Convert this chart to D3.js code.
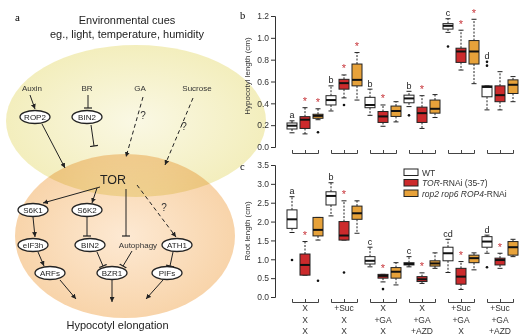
<!DOCTYPE html>
<html>
<head>
<meta charset="utf-8">
<script src="https://cdn.jsdelivr.net/npm/d3@7"></script>
<style>
  body { margin: 0; background: #fff; }
  svg { display: block; font-family: "Liberation Sans", Arial, sans-serif; }
</style>
</head>
<body>
<svg id="fig" width="532" height="336"></svg>
<script>
// treatment rows shown under panel c, one entry per group
var sucroseRow = ["X", "+Suc", "X", "X", "+Suc", "+Suc"];
var gaRow      = ["X", "X", "+GA", "+GA", "+GA", "+GA"];
var azdRow     = ["X", "X", "X", "+AZD", "X", "+AZD"];

var genotypes = ["WT", "TOR-RNAi (35-7)", "rop2 rop6 ROP4-RNAi"];
var genoColors = ["#ffffff", "#cc2a2c", "#e7a23a"];

// hypocotyl length (cm): [low whisker, Q1, median, Q3, high whisker], WT / TOR / rop per group
var hypoTicks = [0, 0.2, 0.4, 0.6, 0.8, 1.0, 1.2];
var hypoStats = [
  [0.13, 0.165, 0.195, 0.22, 0.24], [0.12, 0.17, 0.25, 0.278, 0.36], [0.25, 0.263, 0.285, 0.30, 0.35],
  [0.33, 0.385, 0.43, 0.47, 0.56],  [0.45, 0.53, 0.585, 0.62, 0.66], [0.43, 0.56, 0.615, 0.76, 0.865],
  [0.29, 0.36, 0.385, 0.455, 0.53], [0.19, 0.225, 0.28, 0.325, 0.385], [0.23, 0.28, 0.33, 0.375, 0.415],
  [0.37, 0.405, 0.445, 0.475, 0.51], [0.17, 0.225, 0.31, 0.365, 0.47], [0.27, 0.31, 0.35, 0.43, 0.48],
  [1.05, 1.08, 1.11, 1.13, 1.175],  [0.705, 0.775, 0.875, 0.905, 1.07], [0.58, 0.76, 0.875, 0.975, 1.17],
  [0.34, 0.46, 0.55, 0.56, 0.56],   [0.34, 0.415, 0.475, 0.56, 0.69], [0.415, 0.49, 0.57, 0.615, 0.645]
];
var hypoOutliers = [[], [], [0.135], [], [0.385], [], [], [], [], [0.29], [], [], [0.92], [], [], [0.745, 0.78], [], []];
var hypoMarks = ["a", "*", "*", "b", "*", "*", "b", "*", "", "b", "*", "", "c", "*", "*", "d", "", ""];

// root length (cm)
var rootTicks = [0, 0.5, 1.0, 1.5, 2.0, 2.5, 3.0, 3.5];
var rootStats = [
  [1.71, 1.82, 2.06, 2.31, 2.66], [0.58, 0.58, 0.85, 1.14, 1.47], [1.51, 1.62, 1.78, 2.11, 2.11],
  [2.15, 2.44, 2.68, 2.79, 3.03], [1.51, 1.51, 1.63, 2.0, 2.55],  [1.69, 2.06, 2.22, 2.41, 2.55],
  [0.8, 0.875, 0.96, 1.07, 1.32], [0.4, 0.5, 0.56, 0.6, 0.6],     [0.32, 0.5, 0.67, 0.78, 0.91],
  [0.8, 0.85, 0.875, 0.91, 1.07], [0.36, 0.41, 0.47, 0.54, 0.64], [0.76, 0.82, 0.89, 0.96, 1.17],
  [0.65, 0.96, 1.16, 1.32, 1.53], [0.2, 0.34, 0.54, 0.76, 0.94],  [0.72, 0.91, 1.03, 1.11, 1.17],
  [1.16, 1.32, 1.47, 1.6, 1.64],  [0.76, 0.85, 0.98, 1.03, 1.16], [1.07, 1.11, 1.32, 1.47, 1.53]
];
var rootOutliers = [[0.98], [], [0.43], [], [0.65], [], [], [0.21], [], [], [], [], [], [], [], [0.79], [], []];
var rootMarks = ["a", "*", "", "b", "*", "", "c", "*", "", "c", "*", "", "cd", "*", "", "d", "*", ""];

// pathway diagram (panel a), positions in 10px grid units
var cues = [
  {label: "Auxin", gx: 3.2, gy: 8.8}, {label: "BR", gx: 8.7, gy: 8.8},
  {label: "GA", gx: 14.0, gy: 8.8}, {label: "Sucrose", gx: 19.7, gy: 8.8}
];
var nodes = [
  {label: "ROP2", gx: 3.5, gy: 11.7}, {label: "BIN2", gx: 8.7, gy: 11.7},
  {label: "S6K1", gx: 3.3, gy: 21.0}, {label: "S6K2", gx: 8.7, gy: 21.0},
  {label: "eIF3h", gx: 3.3, gy: 24.5}, {label: "BIN2", gx: 9.0, gy: 24.5},
  {label: "ATH1", gx: 17.7, gy: 24.5},
  {label: "ARFs", gx: 5.0, gy: 27.3}, {label: "BZR1", gx: 11.2, gy: 27.3},
  {label: "PIFs", gx: 16.7, gy: 27.3}
];
var links = [
  {x1: 3.0, y1: 9.5, x2: 3.5, y2: 10.9, end: "arrow"},
  {x1: 8.8, y1: 9.5, x2: 8.8, y2: 10.8, end: "bar"},
  {x1: 14.3, y1: 9.7, x2: 12.6, y2: 15.7, end: "arrow", dash: true},
  {x1: 19.3, y1: 9.8, x2: 16.5, y2: 16.5, end: "arrow", dash: true},
  {x1: 4.2, y1: 12.4, x2: 6.5, y2: 16.8, end: "arrow"},
  {x1: 9.1, y1: 12.5, x2: 9.4, y2: 14.6, end: "bar"},
  {x1: 10.0, y1: 18.7, x2: 4.3, y2: 20.3, end: "arrow"},
  {x1: 9.7, y1: 18.8, x2: 9.2, y2: 20.3, end: "arrow"},
  {x1: 12.6, y1: 18.9, x2: 12.6, y2: 23.6, end: "bar"},
  {x1: 13.7, y1: 18.5, x2: 17.6, y2: 23.7, end: "arrow", dash: true},
  {x1: 3.3, y1: 21.7, x2: 3.5, y2: 23.7, end: "arrow"},
  {x1: 8.7, y1: 21.7, x2: 8.7, y2: 23.6, end: "bar"},
  {x1: 3.8, y1: 25.2, x2: 4.4, y2: 26.6, end: "arrow"},
  {x1: 9.7, y1: 25.2, x2: 10.3, y2: 26.6, end: "bar"},
  {x1: 13.2, y1: 25.1, x2: 12.3, y2: 26.6, end: "bar"},
  {x1: 17.3, y1: 25.2, x2: 17.0, y2: 26.6, end: "bar"},
  {x1: 6.0, y1: 28.0, x2: 7.6, y2: 29.9, end: "arrow"},
  {x1: 11.2, y1: 28.0, x2: 11.2, y2: 30.2, end: "arrow"},
  {x1: 16.3, y1: 28.0, x2: 14.6, y2: 29.9, end: "arrow"}
];
var questions = [{gx: 14.3, gy: 11.5}, {gx: 18.4, gy: 12.6}, {gx: 16.4, gy: 20.7}];

var svg = d3.select("#fig");
var defs = svg.append("defs");

function radial(id, inner, outer) {
  var grad = defs.append("radialGradient").attr("id", id);
  grad.append("stop").attr("offset", "0%").attr("stop-color", inner);
  grad.append("stop").attr("offset", "100%").attr("stop-color", outer);
}
radial("yel", "#faf8e4", "#f3eebd");
radial("org", "#fde9d3", "#f8d4aa");

defs.append("marker").attr("id", "arrow")
    .attr("viewBox", "0 0 6 6").attr("refX", 6).attr("refY", 3)
    .attr("markerWidth", 5).attr("markerHeight", 5)
    .attr("markerUnits", "userSpaceOnUse").attr("orient", "auto")
  .append("path").attr("d", "M0,0L6,3L0,6z").attr("fill", "#222");
defs.append("marker").attr("id", "bar")
    .attr("viewBox", "0 -4 2 8").attr("refX", 1).attr("refY", 0)
    .attr("markerWidth", 2).attr("markerHeight", 8)
    .attr("markerUnits", "userSpaceOnUse").attr("orient", "auto")
  .append("path").attr("d", "M1,-4V4").attr("stroke", "#222").attr("stroke-width", 1.2);

// ---------- panel a ----------
var gx = d3.scaleLinear().domain([0, 26]).range([0, 260]);
var gy = d3.scaleLinear().domain([0, 33.6]).range([0, 336]);
var pa = svg.append("g");

pa.append("ellipse").attr("cx", gx(13.6)).attr("cy", gy(12.1))
    .attr("rx", gx(13.0)).attr("ry", gy(7.6)).attr("fill", "url(#yel)");
pa.append("ellipse").attr("cx", gx(12.5)).attr("cy", gy(23.6))
    .attr("rx", gx(11.0)).attr("ry", gy(8.2)).attr("fill", "url(#org)")
    .style("mix-blend-mode", "multiply");

pa.append("text").attr("x", 15).attr("y", 21).text("a")
    .attr("font-family", "Liberation Serif, serif").attr("font-size", 11);

pa.selectAll(".head").data(["Environmental cues", "eg., light, temperature, humidity"])
  .join("text").attr("x", gx(12.7)).attr("y", function(d, i) { return gy(2.4 + i * 1.4); })
    .attr("text-anchor", "middle").attr("font-size", 11).attr("fill", "#222").text(function(d) { return d; });

pa.selectAll(".link").data(links).join("line")
    .attr("x1", function(d) { return gx(d.x1); }).attr("y1", function(d) { return gy(d.y1); })
    .attr("x2", function(d) { return gx(d.x2); }).attr("y2", function(d) { return gy(d.y2); })
    .attr("stroke", "#222").attr("stroke-width", 1)
    .attr("stroke-dasharray", function(d) { return d.dash ? "4,3" : null; })
    .attr("marker-end", function(d) { return "url(#" + d.end + ")"; });

pa.selectAll(".cue").data(cues).join("text")
    .attr("x", function(d) { return gx(d.gx); }).attr("y", function(d) { return gy(d.gy); })
    .attr("dy", "0.35em").attr("text-anchor", "middle").attr("font-size", 8).attr("fill", "#333")
    .text(function(d) { return d.label; });

var ng = pa.selectAll(".node").data(nodes).join("g")
    .attr("transform", function(d) { return "translate(" + gx(d.gx) + "," + gy(d.gy) + ")"; });
ng.append("ellipse").attr("rx", 15).attr("ry", 6.5)
    .attr("fill", "#fff").attr("stroke", "#222").attr("stroke-width", 1.3);
ng.append("text").attr("dy", "0.35em").attr("text-anchor", "middle")
    .attr("font-size", 8).attr("fill", "#222").text(function(d) { return d.label; });

pa.append("text").attr("x", gx(13.8)).attr("y", gy(24.5)).attr("dy", "0.35em")
    .attr("text-anchor", "middle").attr("font-size", 8).attr("fill", "#333").text("Autophagy");
pa.append("text").attr("x", gx(11.3)).attr("y", gy(18.0)).attr("dy", "0.35em")
    .attr("text-anchor", "middle").attr("font-size", 12.5).attr("fill", "#222").text("TOR");
pa.selectAll(".q").data(questions).join("text")
    .attr("x", function(d) { return gx(d.gx); }).attr("y", function(d) { return gy(d.gy); })
    .attr("dy", "0.35em").attr("text-anchor", "middle").attr("font-size", 10).attr("fill", "#333")
    .text("?");
pa.append("text").attr("x", gx(11.75)).attr("y", gy(32.9))
    .attr("text-anchor", "middle").attr("font-size", 11).attr("fill", "#222").text("Hypocotyl elongation");

// ---------- panels b and c ----------
var x = d3.scalePoint().domain(d3.range(18)).range([292, 513]);
var boxW = 10;

function boxPanel(o) {
  var y = d3.scaleLinear().domain(o.domain).range(o.range);
  var g = svg.append("g");

  var ax = g.append("g").attr("transform", "translate(275,0)")
      .call(d3.axisLeft(y).tickValues(o.ticks).tickFormat(d3.format(".1f")).tickSize(4).tickPadding(2));
  ax.attr("font-size", 8.5).attr("font-family", null);
  ax.selectAll("path,line").attr("stroke", "#333");
  ax.selectAll("text").attr("fill", "#333");

  g.append("text").attr("transform", "translate(250," + o.titleY + ") rotate(-90)")
      .attr("text-anchor", "middle").attr("font-size", 8).attr("fill", "#333").text(o.title);
  g.append("text").attr("x", 240).attr("y", o.letterY).text(o.letter)
      .attr("font-family", "Liberation Serif, serif").attr("font-size", 10.5);

  // group brackets
  d3.range(6).forEach(function(k) {
    var s = d3.scaleLinear().domain([0, 2]).range([x(3 * k), x(3 * k + 2)]);
    var b = g.append("g").attr("transform", "translate(0," + o.bracketY + ")")
        .call(d3.axisTop(s).tickValues([0, 1, 2]).tickFormat("").tickSize(3).tickSizeOuter(3));
    b.selectAll("path,line").attr("stroke", "#444");
  });

  var bx = g.selectAll(".box").data(o.stats).join("g")
      .attr("transform", function(d, i) { return "translate(" + x(i) + ",0)"; });
  // whiskers
  bx.append("line").attr("y1", function(d) { return y(d[3]); }).attr("y2", function(d) { return y(d[4]); })
      .attr("stroke", "#222").attr("stroke-dasharray", "2,1.5");
  bx.append("line").attr("y1", function(d) { return y(d[1]); }).attr("y2", function(d) { return y(d[0]); })
      .attr("stroke", "#222").attr("stroke-dasharray", "2,1.5");
  bx.append("line").attr("x1", -2.5).attr("x2", 2.5)
      .attr("y1", function(d) { return y(d[4]); }).attr("y2", function(d) { return y(d[4]); }).attr("stroke", "#222");
  bx.append("line").attr("x1", -2.5).attr("x2", 2.5)
      .attr("y1", function(d) { return y(d[0]); }).attr("y2", function(d) { return y(d[0]); }).attr("stroke", "#222");
  bx.append("rect").attr("x", -boxW / 2).attr("width", boxW)
      .attr("y", function(d) { return y(d[3]); })
      .attr("height", function(d) { return y(d[1]) - y(d[3]); })
      .attr("fill", function(d, i) { return genoColors[i % 3]; })
      .attr("stroke", "#222").attr("stroke-width", 1);
  bx.append("line").attr("x1", -boxW / 2).attr("x2", boxW / 2)
      .attr("y1", function(d) { return y(d[2]); }).attr("y2", function(d) { return y(d[2]); })
      .attr("stroke", "#111").attr("stroke-width", 2);
  bx.each(function(d, i) {
    d3.select(this).selectAll("circle").data(o.outliers[i]).join("circle")
        .attr("cy", function(v) { return y(v); }).attr("r", 1.3).attr("fill", "#111");
  });

  // significance letters and stars
  bx.append("text")
      .attr("y", function(d, i) { return y(d3.max([d[4]].concat(o.outliers[i]))) - 2.5; })
      .attr("text-anchor", "middle")
      .attr("font-size", function(d, i) { return o.marks[i] === "*" ? 11 : 9; })
      .attr("fill", function(d, i) { return o.marks[i] === "*" ? "#c8353a" : "#222"; })
      .text(function(d, i) { return o.marks[i]; });
  return y;
}

boxPanel({domain: [0, 1.2], range: [147, 16], ticks: hypoTicks, stats: hypoStats, outliers: hypoOutliers,
  marks: hypoMarks, title: "Hypocotyl length (cm)", titleY: 76, letter: "b", letterY: 19, bracketY: 153});
boxPanel({domain: [0, 3.5], range: [297, 165], ticks: rootTicks, stats: rootStats, outliers: rootOutliers,
  marks: rootMarks, title: "Root length (cm)", titleY: 231, letter: "c", letterY: 170, bracketY: 302});

// treatment labels
[sucroseRow, gaRow, azdRow].forEach(function(row, r) {
  svg.selectAll(".cond" + r).data(row).join("text")
      .attr("x", function(d, k) { return x(3 * k + 1); }).attr("y", 311 + r * 11.7)
      .attr("text-anchor", "middle").attr("font-size", 8.5).attr("fill", "#333")
      .text(function(d) { return d; });
});

// legend
var lg = svg.append("g").attr("transform", "translate(404,169)");
var li = lg.selectAll("g").data(genotypes).join("g")
    .attr("transform", function(d, i) { return "translate(0," + i * 10.5 + ")"; });
li.append("rect").attr("width", 14).attr("height", 6.5)
    .attr("fill", function(d, i) { return genoColors[i]; }).attr("stroke", "#222");
var lt = li.append("text").attr("x", 18).attr("y", 6.5).attr("font-size", 8.5).attr("fill", "#333");
lt.each(function(d) {
  var t = d3.select(this);
  var m = d.match(/^(.*?)(-RNAi.*)$/);
  if (!m) { t.text(d); return; }
  t.append("tspan").attr("font-style", "italic").text(m[1]);
  t.append("tspan").text(m[2]);
});
</script>
</body>
</html>
